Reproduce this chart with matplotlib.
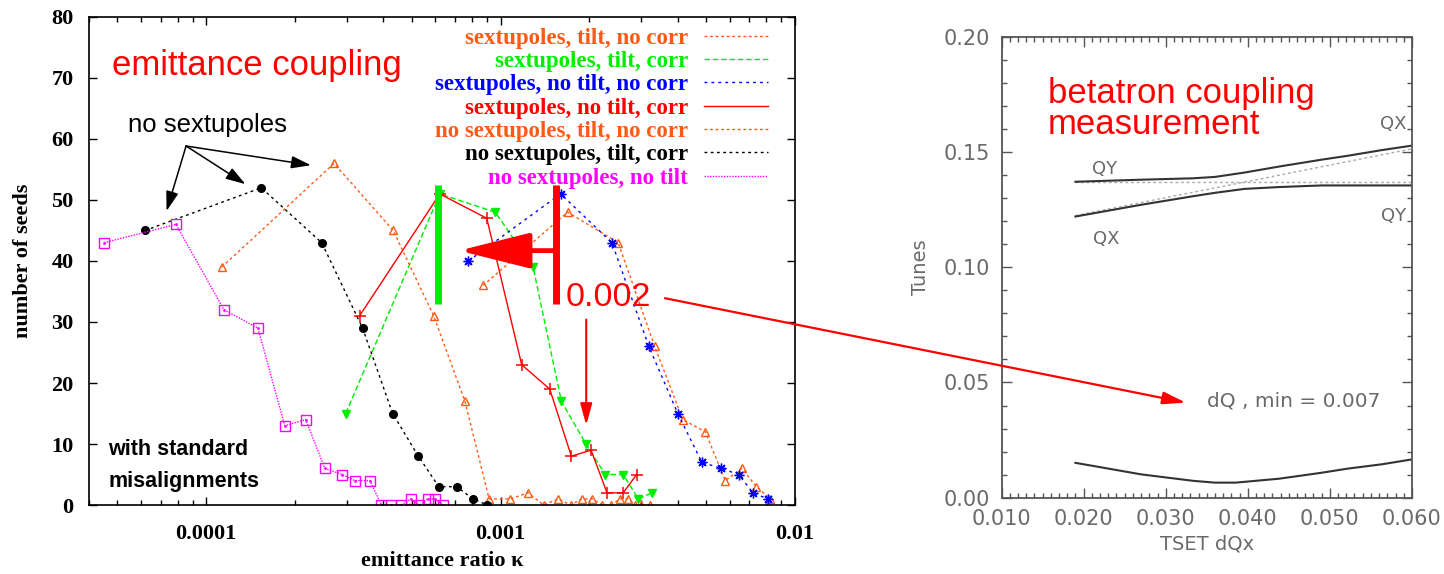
import matplotlib.pyplot as plt
from matplotlib.patches import ConnectionPatch
from matplotlib.ticker import MultipleLocator, FormatStrFormatter, FixedLocator, FixedFormatter, LogLocator, NullFormatter

# ---- left: emittance ratio kappa vs number of seeds ----
k_sx_tilt_nocorr = [8.73e-4, 1.69e-3, 2.51e-3, 3.34e-3, 4.16e-3, 4.96e-3, 5.8e-3, 6.6e-3, 7.4e-3, 8.26e-3]
n_sx_tilt_nocorr = [36, 48, 43, 26, 14, 12, 4, 6, 3, 1]

k_sx_tilt_corr = [2.98e-4, 6.22e-4, 9.6e-4, 1.29e-3, 1.61e-3, 1.95e-3, 2.27e-3, 2.61e-3, 2.94e-3, 3.27e-3]
n_sx_tilt_corr = [15, 51, 48, 39, 17, 10, 5, 5, 1, 2]

k_sx_notilt_nocorr = [7.78e-4, 1.6e-3, 2.39e-3, 3.19e-3, 4.0e-3, 4.83e-3, 5.62e-3, 6.44e-3, 7.2e-3, 8.09e-3]
n_sx_notilt_nocorr = [40, 51, 43, 26, 15, 7, 6, 5, 2, 1]

k_sx_notilt_corr = [3.32e-4, 6.22e-4, 8.98e-4, 1.18e-3, 1.47e-3, 1.74e-3, 2.03e-3, 2.3e-3, 2.61e-3, 2.9e-3]
n_sx_notilt_corr = [31, 51, 47, 23, 19, 8, 9, 2, 2, 5]

k_nosx_tilt_nocorr = [1.13e-4, 2.72e-4, 4.32e-4, 5.93e-4, 7.57e-4, 9.15e-4, 1.08e-3, 1.24e-3, 1.4e-3, 1.57e-3,
                      1.73e-3, 1.89e-3, 2.05e-3, 2.22e-3, 2.38e-3, 2.54e-3, 2.71e-3, 2.86e-3, 3.01e-3, 3.21e-3]
n_nosx_tilt_nocorr = [39, 56, 45, 31, 17, 1, 1, 2, 0, 1, 0, 1, 1, 0, 0, 1, 1, 0, 0, 0]

k_nosx_tilt_corr = [6.2e-5, 1.54e-4, 2.47e-4, 3.4e-4, 4.3e-4, 5.26e-4, 6.17e-4, 7.1e-4, 8.06e-4, 9.03e-4]
n_nosx_tilt_corr = [45, 52, 43, 29, 15, 8, 3, 3, 1, 0]

k_nosx_notilt = [4.5e-5, 7.9e-5, 1.15e-4, 1.5e-4, 1.85e-4, 2.18e-4, 2.53e-4, 2.9e-4, 3.2e-4, 3.6e-4,
                 3.94e-4, 4.26e-4, 4.6e-4, 4.95e-4, 5.3e-4, 5.66e-4, 6.0e-4, 6.36e-4]
n_nosx_notilt = [43, 46, 32, 29, 13, 14, 6, 5, 4, 4, 0, 0, 0, 1, 0, 1, 1, 0]

# ---- right: tune scan ----
tset = [0.0190, 0.0270, 0.0333, 0.0360, 0.0396, 0.0438, 0.0490, 0.0522, 0.0564, 0.0600]
q_upper = [0.1372, 0.1381, 0.1387, 0.1393, 0.1412, 0.1438, 0.1468, 0.1485, 0.1510, 0.1529]
q_lower = [0.1221, 0.1272, 0.1309, 0.1324, 0.1341, 0.1349, 0.1356, 0.1356, 0.1356, 0.1356]
tset_dq = [0.0190, 0.0270, 0.0333, 0.0360, 0.0385, 0.0438, 0.0490, 0.0522, 0.0564, 0.0600]
dq = [0.0151, 0.0101, 0.0073, 0.0065, 0.0065, 0.0082, 0.0108, 0.0126, 0.0145, 0.0166]
tset_unc = [0.019, 0.060]
qx_unc = [0.1225, 0.1515]
qy_unc = [0.1371, 0.1371]

ORANGE = '#ff5a14'
SERIF = ['Liberation Serif', 'DejaVu Serif']
SANS = ['Liberation Sans', 'DejaVu Sans']
GRAY = '#6a6a6a'

fig = plt.figure(figsize=(14.44, 5.74), dpi=100)
axL = fig.add_axes([0.0616, 0.1202, 0.4889, 0.8502])
axR = fig.add_axes([0.6936, 0.1331, 0.2842, 0.8021])

series = [
    (k_sx_tilt_nocorr, n_sx_tilt_nocorr, ORANGE, (0, (2, 2)), dict(marker='^', mfc='none', ms=6), 'sextupoles, tilt, no corr'),
    (k_sx_tilt_corr, n_sx_tilt_corr, '#00ee00', (0, (4, 2)), dict(marker='v', ms=6), 'sextupoles, tilt, corr'),
    (k_sx_notilt_nocorr, n_sx_notilt_nocorr, 'blue', (0, (2, 3)), dict(marker=(8, 2, 0), ms=7, mew=1.0), 'sextupoles, no tilt, no corr'),
    (k_sx_notilt_corr, n_sx_notilt_corr, 'red', '-', dict(marker='+', ms=8, mew=1.1), 'sextupoles, no tilt, corr'),
    (k_nosx_tilt_nocorr, n_nosx_tilt_nocorr, ORANGE, (0, (2, 2)), dict(marker='^', mfc='none', ms=6), 'no sextupoles, tilt, no corr'),
    (k_nosx_tilt_corr, n_nosx_tilt_corr, 'black', (0, (2, 2.5)), dict(marker='o', ms=5.5), 'no sextupoles, tilt, corr'),
    (k_nosx_notilt, n_nosx_notilt, 'magenta', (0, (1, 1)), dict(marker='s', mfc='none', ms=7), 'no sextupoles, no tilt'),
]
for k, n, c, ls, mk, lab in series:
    axL.plot(k, n, color=c, ls=ls, lw=1.0, label=lab)
    axL.plot(k, n, color=c, ls='none', **mk)
axL.plot(k_nosx_notilt, n_nosx_notilt, color='magenta', ls='none', marker='.', ms=2)

axL.set_xscale('log')
axL.set_xlim(4e-5, 1e-2)
axL.set_ylim(0, 80)
axL.yaxis.set_major_locator(MultipleLocator(10))
axL.xaxis.set_major_locator(FixedLocator([1e-4, 1e-3, 1e-2]))
axL.xaxis.set_major_formatter(FixedFormatter(['0.0001', '0.001', '0.01']))
axL.xaxis.set_minor_locator(LogLocator(base=10, subs=range(2, 10)))
axL.xaxis.set_minor_formatter(NullFormatter())
axL.tick_params(which='both', direction='in', top=True, right=True, width=1.0)
axL.tick_params(which='major', length=6, pad=11)
axL.tick_params(which='minor', length=3.5)
axL.tick_params(axis='x', pad=14)
for lab in axL.get_xticklabels() + axL.get_yticklabels():
    lab.set_fontfamily(SERIF)
    lab.set_fontweight('bold')
    lab.set_fontsize(16)
for sp in axL.spines.values():
    sp.set_linewidth(1.2)
axL.set_xlabel('emittance ratio \u03ba', fontfamily=SERIF, fontweight='bold', fontsize=16, labelpad=5)
axL.set_ylabel('number of seeds', fontfamily=SERIF, fontweight='bold', fontsize=16, labelpad=13)

leg = axL.legend(loc='upper right', bbox_to_anchor=(0.962, 0.978), markerfirst=False, frameon=False,
                 labelcolor='linecolor', handlelength=2.8, handletextpad=0.7, labelspacing=0.1,
                 borderpad=0, borderaxespad=0,
                 prop=dict(family=SERIF, weight='bold', size=16.5))

axL.text(0.032, 0.881, 'emittance coupling', transform=axL.transAxes, color='red',
         fontfamily=SANS, fontsize=25, va='baseline')
axL.text(0.0557, 0.765, 'no sextupoles', transform=axL.transAxes, color='black',
         fontfamily=SANS, fontsize=18.5, va='baseline')
for xy in [(7.34e-5, 48.2), (1.36e-4, 52.6), (2.27e-4, 55.7)]:
    axL.annotate('', xy=xy, xytext=(8.55e-5, 58.85),
                 arrowprops=dict(arrowstyle='-|>,head_length=12,head_width=3.8', mutation_scale=1,
                                 color='black', lw=1.1, shrinkA=0, shrinkB=0))
axL.text(0.0273, 0.1025, 'with standard', transform=axL.transAxes, fontfamily=SANS,
         fontweight='bold', fontsize=15.5, va='baseline')
axL.text(0.0273, 0.0369, 'misalignments', transform=axL.transAxes, fontfamily=SANS,
         fontweight='bold', fontsize=15.5, va='baseline')

# marks for the coupling scale: green and red bars, shift arrow, 0.002 label
axL.vlines([6.14e-4], 33, 52.5, color='#00ee00', lw=5)
axL.vlines([1.545e-3], 33, 52.5, color='red', lw=5)
axL.annotate('', xy=(7.22e-4, 41.7), xytext=(1.545e-3, 41.7),
             arrowprops=dict(arrowstyle='-|>,head_length=44,head_width=11', mutation_scale=1,
                             color='red', lw=3.5, shrinkA=0, shrinkB=0))
axL.text(0.675, 0.408, '0.002', transform=axL.transAxes, color='red', fontfamily=SANS,
         fontsize=24.5, va='baseline')
axL.annotate('', xy=(1.955e-3, 13.1), xytext=(1.955e-3, 30.4),
             arrowprops=dict(arrowstyle='-|>,head_length=13,head_width=3.6', mutation_scale=1,
                             color='red', lw=1.5, shrinkA=0, shrinkB=0))

# ---- right panel ----
axR.plot(tset_unc, qy_unc, color='#aaaaaa', lw=1.0, ls=(0, (2, 2)))
axR.plot(tset_unc, qx_unc, color='#aaaaaa', lw=1.0, ls=(0, (2, 2)))
axR.plot(tset, q_upper, color='#333333', lw=1.5)
axR.plot(tset, q_lower, color='#333333', lw=1.5)
axR.plot(tset_dq, dq, color='#333333', lw=1.5)
axR.set_xlim(0.010, 0.060)
axR.set_ylim(0.0, 0.20)
axR.xaxis.set_major_locator(MultipleLocator(0.01))
axR.xaxis.set_minor_locator(MultipleLocator(0.001))
axR.yaxis.set_major_locator(MultipleLocator(0.05))
axR.yaxis.set_minor_locator(MultipleLocator(0.01))
axR.xaxis.set_major_formatter(FormatStrFormatter('%.3f'))
axR.yaxis.set_major_formatter(FormatStrFormatter('%.2f'))
axR.tick_params(which='both', direction='in', top=True, right=True, color='#555555', width=1.0,
                labelcolor=GRAY, labelsize=15)
axR.tick_params(which='major', length=7, pad=8)
axR.tick_params(which='minor', length=3.5)
for sp in axR.spines.values():
    sp.set_color('#555555')
    sp.set_linewidth(1.3)
axR.set_xlabel('TSET dQx', color=GRAY, fontsize=14, labelpad=4)
axR.set_ylabel('Tunes', color=GRAY, fontsize=14, labelpad=10)

axR.text(0.0226, 0.1426, 'QY', color=GRAY, fontsize=13, ha='center', va='center')
axR.text(0.0227, 0.1125, 'QX', color=GRAY, fontsize=13, ha='center', va='center')
axR.text(0.0577, 0.1625, 'QX', color=GRAY, fontsize=13, ha='center', va='center')
axR.text(0.0577, 0.1225, 'QY', color=GRAY, fontsize=13, ha='center', va='center')
axR.text(0.0350, 0.0421, 'dQ , min = 0.007', color=GRAY, fontsize=14.5, ha='left', va='center')
axR.text(0.0156, 0.1713, 'betatron coupling', color='red', fontfamily=SANS, fontsize=25, va='baseline')
axR.text(0.0156, 0.1581, 'measurement', color='red', fontfamily=SANS, fontsize=25, va='baseline')

con = ConnectionPatch(xyA=(3.62e-3, 33.9), coordsA=axL.transData,
                      xyB=(0.03244, 0.04125), coordsB=axR.transData,
                      arrowstyle='-|>,head_length=14,head_width=3.8', mutation_scale=1,
                      color='red', lw=1.6, shrinkA=0, shrinkB=0)
fig.add_artist(con)

fig.savefig('out.png', dpi=100)
